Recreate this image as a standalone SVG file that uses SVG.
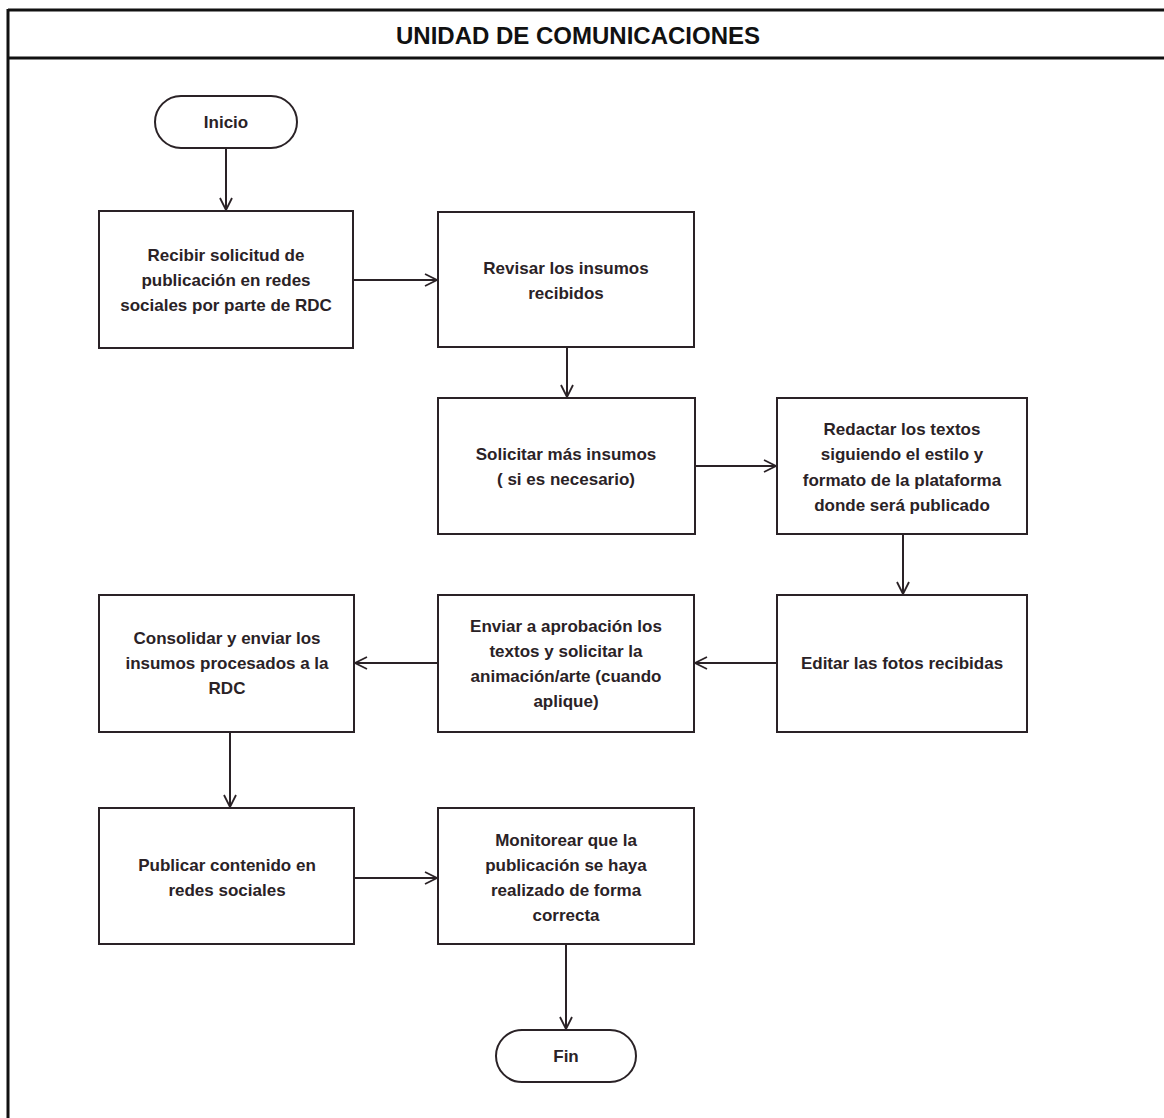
<svg xmlns="http://www.w3.org/2000/svg" width="1164" height="1118" viewBox="0 0 1164 1118">
<style>
.box{fill:#fff;stroke:#2a2226;stroke-width:2}
.t{font-family:"Liberation Sans","Open Sans",sans-serif;font-weight:bold;font-size:17px;fill:#2a2226;text-anchor:middle;dominant-baseline:central}
.ttl{font-family:"Liberation Sans","Open Sans",sans-serif;font-weight:bold;font-size:24px;fill:#111;text-anchor:middle;dominant-baseline:central}
.frame{stroke:#111;stroke-width:3;fill:none}
.c{stroke:#2a2226;stroke-width:2;fill:none;marker-end:url(#ah)}
</style>
<defs>
<marker id="ah" viewBox="0 0 14 14" refX="13" refY="7" markerWidth="14" markerHeight="14" markerUnits="userSpaceOnUse" orient="auto">
<path d="M1,1 L13,7 L1,13" fill="none" stroke="#2a2226" stroke-width="1.8"/>
</marker>
</defs>
<rect width="1164" height="1118" fill="#fff"/>
<g id="frame">
<line class="frame" x1="8" y1="10" x2="1164" y2="10"/>
<line class="frame" x1="8" y1="58" x2="1164" y2="58"/>
<line class="frame" x1="8" y1="9" x2="8" y2="1118"/>
<text class="ttl" x="578" y="35">UNIDAD DE COMUNICACIONES</text>
</g>
<g id="connectors">
<line class="c" x1="226" y1="148" x2="226" y2="210"/>
<line class="c" x1="353" y1="280" x2="437" y2="280"/>
<line class="c" x1="567" y1="347" x2="567" y2="397"/>
<line class="c" x1="695" y1="466" x2="776" y2="466"/>
<line class="c" x1="903" y1="534" x2="903" y2="594"/>
<line class="c" x1="777" y1="663" x2="695" y2="663"/>
<line class="c" x1="438" y1="663" x2="355" y2="663"/>
<line class="c" x1="230" y1="732" x2="230" y2="807"/>
<line class="c" x1="354" y1="878" x2="437" y2="878"/>
<line class="c" x1="566" y1="944" x2="566" y2="1029"/>
</g>
<g id="inicio">
<rect class="box" x="155" y="96" width="142" height="52" rx="26"/>
<text class="t" x="226" y="122">Inicio</text>
</g>
<g id="recibir">
<rect class="box" x="99" y="211" width="254" height="137"/>
<text class="t" x="226" y="255">Recibir solicitud de</text>
<text class="t" x="226" y="280">publicación en redes</text>
<text class="t" x="226" y="305">sociales por parte de RDC</text>
</g>
<g id="revisar">
<rect class="box" x="438" y="212" width="256" height="135"/>
<text class="t" x="566" y="268">Revisar los insumos</text>
<text class="t" x="566" y="293">recibidos</text>
</g>
<g id="solicitar">
<rect class="box" x="438" y="398" width="257" height="136"/>
<text class="t" x="566" y="454">Solicitar más insumos</text>
<text class="t" x="566" y="479">( si es necesario)</text>
</g>
<g id="redactar">
<rect class="box" x="777" y="398" width="250" height="136"/>
<text class="t" x="902" y="429">Redactar los textos</text>
<text class="t" x="902" y="454">siguiendo el estilo y</text>
<text class="t" x="902" y="480">formato de la plataforma</text>
<text class="t" x="902" y="505">donde será publicado</text>
</g>
<g id="editar">
<rect class="box" x="777" y="595" width="250" height="137"/>
<text class="t" x="902" y="663">Editar las fotos recibidas</text>
</g>
<g id="enviar">
<rect class="box" x="438" y="595" width="256" height="137"/>
<text class="t" x="566" y="626">Enviar a aprobación los</text>
<text class="t" x="566" y="651">textos y solicitar la</text>
<text class="t" x="566" y="676">animación/arte (cuando</text>
<text class="t" x="566" y="701">aplique)</text>
</g>
<g id="consolidar">
<rect class="box" x="99" y="595" width="255" height="137"/>
<text class="t" x="227" y="638">Consolidar y enviar los</text>
<text class="t" x="227" y="663">insumos procesados a la</text>
<text class="t" x="227" y="688">RDC</text>
</g>
<g id="publicar">
<rect class="box" x="99" y="808" width="255" height="136"/>
<text class="t" x="227" y="865">Publicar contenido en</text>
<text class="t" x="227" y="890">redes sociales</text>
</g>
<g id="monitorear">
<rect class="box" x="438" y="808" width="256" height="136"/>
<text class="t" x="566" y="840">Monitorear que la</text>
<text class="t" x="566" y="865">publicación se haya</text>
<text class="t" x="566" y="890">realizado de forma</text>
<text class="t" x="566" y="915">correcta</text>
</g>
<g id="fin">
<rect class="box" x="496" y="1030" width="140" height="52" rx="26"/>
<text class="t" x="566" y="1056">Fin</text>
</g>
</svg>
